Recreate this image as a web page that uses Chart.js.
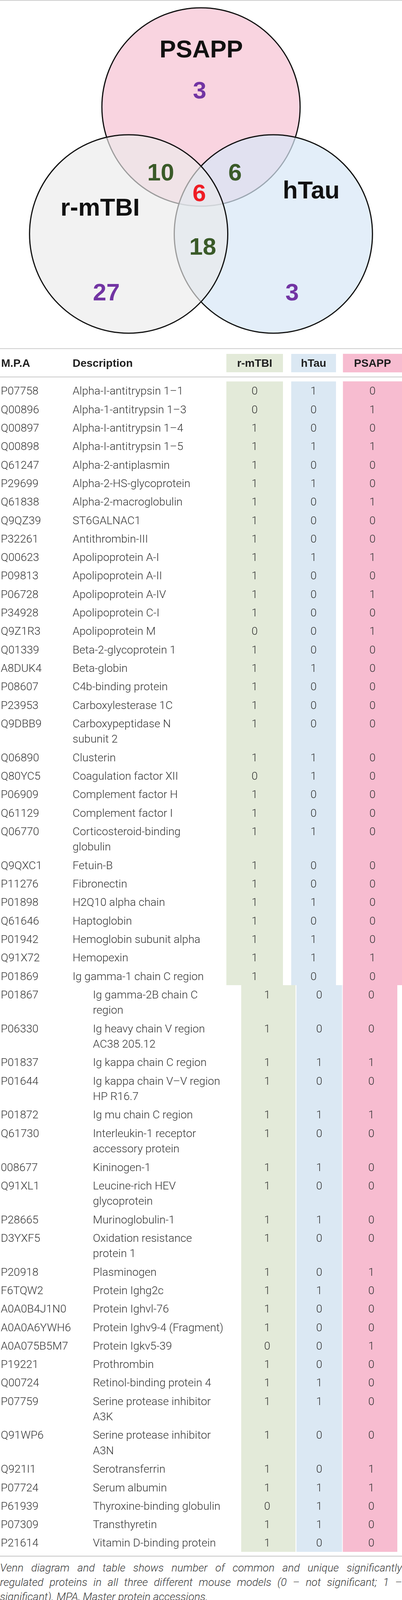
<!DOCTYPE html>
<html>
<head>
<meta charset="utf-8">
<script src="https://cdn.jsdelivr.net/npm/chart.js@4.4.1/dist/chart.umd.min.js"></script>
<style>
body { margin: 0; background: #fff; width: 1030px; }
.box { position: relative; width: 1030px; }
#caption { margin-top: 7px; }
#caption div { font-family: Roboto, "Liberation Sans", sans-serif; font-style: italic; font-weight: 300;
  font-size: 28px; line-height: 37px; color: #3a3a3a; }
#caption .j { text-align: justify; text-align-last: justify; }
</style>
</head>
<body>
<div class="box" id="vennBox" style="height:884px"><canvas id="venn"></canvas></div>
<div class="box" id="box1"><canvas id="tab1"></canvas></div>
<div class="box" id="box2"><canvas id="tab2"></canvas></div>
<div id="caption">
  <div class="j">Venn diagram and table shows number of common and unique significantly</div>
  <div class="j">regulated proteins in all three different mouse models (0 – not significant; 1 –</div>
  <div>significant). MPA, Master protein accessions.</div>
</div>
<script>
// ---------- data ----------
var models = ['r-mTBI', 'hTau', 'PSAPP'];

// venn: sets in drawing order, then counts per region
var vennSets = ['PSAPP', 'hTau', 'r-mTBI'];
var vennRegions = ['PSAPP', 'r-mTBI', 'hTau', 'r-mTBI & PSAPP', 'PSAPP & hTau', 'all', 'r-mTBI & hTau'];
var vennCounts = [3, 27, 3, 10, 6, 6, 18];

var mpa = ['P07758', 'Q00896', 'Q00897', 'Q00898', 'Q61247', 'P29699', 'Q61838', 'Q9QZ39', 'P32261',
  'Q00623', 'P09813', 'P06728', 'P34928', 'Q9Z1R3', 'Q01339', 'A8DUK4', 'P08607', 'P23953', 'Q9DBB9',
  'Q06890', 'Q80YC5', 'P06909', 'Q61129', 'Q06770', 'Q9QXC1', 'P11276', 'P01898', 'Q61646', 'P01942',
  'Q91X72', 'P01869',
  'P01867', 'P06330', 'P01837', 'P01644', 'P01872', 'Q61730', '008677', 'Q91XL1', 'P28665', 'D3YXF5',
  'P20918', 'F6TQW2', 'A0A0B4J1N0', 'A0A0A6YWH6', 'A0A075B5M7', 'P19221', 'Q00724', 'P07759', 'Q91WP6',
  'Q921I1', 'P07724', 'P61939', 'P07309', 'P21614'];

var description = ['Alpha-I-antitrypsin 1–1', 'Alpha-1-antitrypsin 1–3', 'Alpha-I-antitrypsin 1–4',
  'Alpha-I-antitrypsin 1–5', 'Alpha-2-antiplasmin', 'Alpha-2-HS-glycoprotein', 'Alpha-2-macroglobulin',
  'ST6GALNAC1', 'Antithrombin-III', 'Apolipoprotein A-I', 'Apolipoprotein A-II', 'Apolipoprotein A-IV',
  'Apolipoprotein C-I', 'Apolipoprotein M', 'Beta-2-glycoprotein 1', 'Beta-globin', 'C4b-binding protein',
  'Carboxylesterase 1C', 'Carboxypeptidase N\nsubunit 2', 'Clusterin', 'Coagulation factor XII',
  'Complement factor H', 'Complement factor I', 'Corticosteroid-binding\nglobulin', 'Fetuin-B',
  'Fibronectin', 'H2Q10 alpha chain', 'Haptoglobin', 'Hemoglobin subunit alpha', 'Hemopexin',
  'Ig gamma-1 chain C region',
  'Ig gamma-2B chain C\nregion', 'Ig heavy chain V region\nAC38 205.12', 'Ig kappa chain C region',
  'Ig kappa chain V–V region\nHP R16.7', 'Ig mu chain C region', 'Interleukin-1 receptor\naccessory protein',
  'Kininogen-1', 'Leucine-rich HEV\nglycoprotein', 'Murinoglobulin-1', 'Oxidation resistance\nprotein 1',
  'Plasminogen', 'Protein Ighg2c', 'Protein Ighvl-76', 'Protein Ighv9-4 (Fragment)', 'Protein Igkv5-39',
  'Prothrombin', 'Retinol-binding protein 4', 'Serine protease inhibitor\nA3K',
  'Serine protease inhibitor\nA3N', 'Serotransferrin', 'Serum albumin', 'Thyroxine-binding globulin',
  'Transthyretin', 'Vitamin D-binding protein'];

var rmtbi = [0, 0, 1, 1, 1, 1, 1, 1, 1, 1, 1, 1, 1, 0, 1, 1, 1, 1, 1, 1, 0, 1, 1, 1, 1, 1, 1, 1, 1, 1, 1,
  1, 1, 1, 1, 1, 1, 1, 1, 1, 1, 1, 1, 1, 1, 0, 1, 1, 1, 1, 1, 1, 0, 1, 1];
var htau = [1, 0, 0, 1, 0, 1, 0, 0, 0, 1, 0, 0, 0, 0, 0, 1, 0, 0, 0, 1, 1, 0, 0, 1, 0, 0, 1, 0, 1, 1, 0,
  0, 0, 1, 0, 1, 0, 1, 0, 1, 0, 0, 1, 0, 0, 0, 0, 1, 1, 0, 0, 1, 1, 1, 0];
var psapp = [0, 1, 0, 1, 0, 0, 1, 0, 0, 1, 0, 1, 0, 1, 0, 0, 0, 0, 0, 0, 0, 0, 0, 0, 0, 0, 0, 0, 0, 1, 0,
  0, 0, 1, 0, 1, 0, 0, 0, 0, 0, 1, 0, 0, 0, 1, 0, 0, 0, 0, 1, 1, 0, 0, 0];
var values = [rmtbi, htau, psapp];

// ---------- layout / style ----------
var SANS = 'Roboto, "Liberation Sans", Arial, sans-serif';
var BOLD = '"Liberation Sans", Arial, sans-serif';
var BODY_PX = 28.5;

// venn geometry in circle-radius units
var vennLayout = {
  r: 1,
  cx: [0, 0.73, -0.73],
  cy: [1.28, 0, 0],
  fill: ['#f9d4e0', 'rgba(215,231,246,0.7)', 'rgba(235,235,235,0.64)'],
  nameX: [0.002, 1.112, -1.018],
  nameY: [1.868, 0.446, 0.273],
  countX: [-0.014, -0.955, 0.919, -0.407, 0.344, -0.018, 0.018],
  countY: [1.454, -0.583, -0.583, 0.625, 0.625, 0.418, -0.122],
  countColor: ['#7234a3', '#7234a3', '#7234a3', '#3a5a28', '#3a5a28', '#ef1c24', '#3a5a28']
};

var ROW_PX = 47.3;
var WRAP_STEP = 0.835;
var stripColor = ['#e3ead9', '#dbe8f3', '#f7bcd0'];
var sections = [
  { start: 0, end: 31, header: true, descX: 186, padLeft: 577, padRight: 0,
    widths: [0.96, 0.76, 1.0], bottomPad: 0, box: 'box1', canvas: 'tab1' },
  { start: 31, end: 55, header: false, descX: 238, padLeft: 618, padRight: 12,
    widths: [1.088, 0.878, 1.095], bottomPad: 0.32, box: 'box2', canvas: 'tab2' }
];
var HEADER_UNITS = 1.958;

function rowUnits(i) {
  return 1 + (description[i].split('\n').length - 1) * WRAP_STEP;
}

function capText(ctx, text, x, yCenter, size, align) {
  ctx.textAlign = align;
  ctx.textBaseline = 'alphabetic';
  ctx.fillText(text, x, yCenter + size * 0.357);
}

// ---------- venn ----------
var vennText = {
  id: 'vennText',
  afterDatasetsDraw: function(chart) {
    var ctx = chart.ctx, xs = chart.scales.x, ys = chart.scales.y;
    ctx.save();
    ctx.strokeStyle = '#cfcfcf';
    ctx.lineWidth = 2;
    ctx.beginPath(); ctx.moveTo(0, 1); ctx.lineTo(chart.width, 1); ctx.stroke();
    ctx.fillStyle = '#111';
    ctx.font = 'bold 63px ' + BOLD;
    vennSets.forEach(function(name, i) {
      capText(ctx, name, xs.getPixelForValue(vennLayout.nameX[i]), ys.getPixelForValue(vennLayout.nameY[i]), 63, 'center');
    });
    ctx.font = 'bold 62px ' + BOLD;
    vennCounts.forEach(function(n, i) {
      ctx.fillStyle = vennLayout.countColor[i];
      capText(ctx, String(n), xs.getPixelForValue(vennLayout.countX[i]), ys.getPixelForValue(vennLayout.countY[i]), 62, 'center');
    });
    ctx.restore();
  }
};

new Chart(document.getElementById('venn'), {
  type: 'scatter',
  data: {
    datasets: [{
      label: 'sets',
      data: vennSets.map(function(s, i) { return { x: vennLayout.cx[i], y: vennLayout.cy[i] }; }),
      pointRadius: function(c) {
        var s = c.chart.scales.x;
        return s.getPixelForValue(vennLayout.r) - s.getPixelForValue(0);
      },
      pointBackgroundColor: vennLayout.fill,
      pointBorderColor: '#111',
      pointBorderWidth: 3,
      clip: false
    }]
  },
  options: {
    responsive: true,
    maintainAspectRatio: false,
    animation: false,
    events: [],
    layout: { padding: 0 },
    scales: {
      x: { type: 'linear', min: -2.028, max: 2.028, display: false },
      y: { type: 'linear', min: -1.122, max: 2.358, display: false }
    },
    plugins: { legend: { display: false }, tooltip: { enabled: false } }
  },
  plugins: [vennText]
});

// ---------- tables ----------
function makeTablePlugin(sec) {
  return {
    id: 'tableText',
    afterDatasetsDraw: function(chart) {
      var ctx = chart.ctx, xs = chart.scales.x, ys = chart.scales.y, w = chart.width;
      ctx.save();
      function hline(u, color, lw) {
        var y = ys.getPixelForValue(u);
        ctx.strokeStyle = color; ctx.lineWidth = lw;
        ctx.beginPath(); ctx.moveTo(0, y); ctx.lineTo(w, y); ctx.stroke();
      }
      if (sec.header) {
        hline(-1.776, '#bdbdbd', 1.5);
        hline(-0.245, '#d2d2d2', 2.5);
        ctx.fillStyle = '#1e1e1e';
        ctx.font = 'bold 28px ' + BOLD;
        var hy = ys.getPixelForValue(-1.0);
        capText(ctx, 'M.P.A', 3, hy, 28, 'left');
        capText(ctx, 'Description', sec.descX, hy, 28, 'left');
        models.forEach(function(m, k) { capText(ctx, m, xs.getPixelForValue(k), hy, 28, 'center'); });
      } else {
        hline(sec.units + 0.23, '#c4c4c4', 2);
      }
      ctx.fillStyle = '#333';
      ctx.font = '300 ' + BODY_PX + 'px ' + SANS;
      for (var i = sec.start; i < sec.end; i++) {
        var top = sec.tops[i - sec.start];
        var y0 = ys.getPixelForValue(top + 0.5);
        capText(ctx, mpa[i], 2, y0, BODY_PX, 'left');
        description[i].split('\n').forEach(function(line, k) {
          capText(ctx, line, sec.descX, ys.getPixelForValue(top + 0.5 + k * WRAP_STEP), BODY_PX, 'left');
        });
        values.forEach(function(col, k) {
          capText(ctx, String(col[i]), xs.getPixelForValue(k), y0, BODY_PX, 'center');
        });
      }
      ctx.restore();
    }
  };
}

sections.forEach(function(sec) {
  var tops = [], u = 0;
  for (var i = sec.start; i < sec.end; i++) { tops.push(u); u += rowUnits(i); }
  sec.tops = tops;
  sec.units = u;
  sec.yMin = sec.header ? -HEADER_UNITS : 0;
  sec.yMax = u + sec.bottomPad;
  document.getElementById(sec.box).style.height = Math.round((sec.yMax - sec.yMin) * ROW_PX) + 'px';

  var datasets = [];
  models.forEach(function(m, k) {
    var body = models.map(function(_, j) { return j === k ? [0, sec.units] : null; });
    datasets.push({ label: m, data: body, backgroundColor: stripColor[k], borderWidth: 0,
      grouped: false, barPercentage: sec.widths[k], categoryPercentage: 1 });
    if (sec.header) {
      var head = models.map(function(_, j) { return j === k ? [-1.493, -0.499] : null; });
      datasets.push({ label: m + ' header', data: head, backgroundColor: stripColor[k], borderWidth: 0,
        grouped: false, barPercentage: sec.widths[k], categoryPercentage: 1 });
    }
  });

  new Chart(document.getElementById(sec.canvas), {
    type: 'bar',
    data: { labels: models, datasets: datasets },
    options: {
      responsive: true,
      maintainAspectRatio: false,
      animation: false,
      events: [],
      layout: { padding: { left: sec.padLeft, right: sec.padRight, top: 0, bottom: 0 } },
      scales: {
        x: { type: 'category', offset: true, display: false },
        y: { type: 'linear', reverse: true, min: sec.yMin, max: sec.yMax, display: false }
      },
      plugins: { legend: { display: false }, tooltip: { enabled: false } }
    },
    plugins: [makeTablePlugin(sec)]
  });
});
</script>
</body>
</html>
